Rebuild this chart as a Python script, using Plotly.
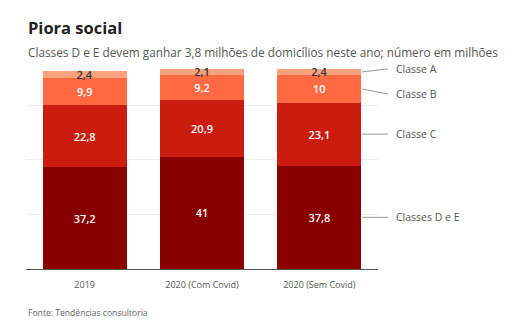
import plotly.graph_objects as go

# Number of households by social class, in millions
categories = ["2019", "2020 (Com Covid)", "2020 (Sem Covid)"]
classes = ["Classes D e E", "Classe C", "Classe B", "Classe A"]
classe_de = [37.2, 41, 37.8]
classe_c = [22.8, 20.9, 23.1]
classe_b = [9.9, 9.2, 10]
classe_a = [2.4, 2.1, 2.4]

series = [classe_de, classe_c, classe_b, classe_a]
colors = ["#8A0000", "#CC1C10", "#FF6A42", "#F9A27E"]
text_colors = ["white", "white", "white", "#333333"]

FONT = "Open Sans"
W, H = 517, 322
M_L, M_R, M_T, M_B = 26, 139, 64, 53
Y_MAX = 75
BARGAP = 0.284


def fmt(v):
    return f"{v:g}".replace(".", ",")


fig = go.Figure()
for name, vals, col, tcol in zip(classes, series, colors, text_colors):
    fig.add_trace(go.Bar(
        x=categories, y=vals, name=name,
        marker=dict(color=col, line=dict(width=0)),
        text=[fmt(v) for v in vals],
        textposition="inside", insidetextanchor="middle",
        textangle=0, constraintext="none",
        textfont=dict(family=FONT, size=11, color=tcol, weight=600),
        hoverinfo="skip",
    ))

plot_h = H - M_T - M_B


def py(px):
    # pixel row -> paper y
    return (H - M_B - px) / plot_h


# Leader lines and labels for the last column
last = len(categories) - 1
edge_x = (last + 0.5 + (1 - BARGAP) / 2) / len(categories)
end_x = (388 - M_L) / (W - M_L - M_R)
label_x = (394 - M_L) / (W - M_L - M_R)
label_offsets = [0, 0, -1.9, 1.1]

annotations = []
shapes = []
base = 0
for name, vals, off in zip(classes, series, label_offsets):
    mid = base + vals[last] / 2
    base += vals[last]
    ly = mid + off
    shapes.append(dict(type="line", xref="paper", yref="paper",
                       x0=edge_x + 0.002, y0=mid / Y_MAX, x1=end_x, y1=ly / Y_MAX,
                       line=dict(color="#999999", width=1)))
    annotations.append(dict(text=name, xref="paper", yref="paper",
                            x=label_x, y=ly / Y_MAX, xanchor="left", yanchor="middle",
                            showarrow=False,
                            font=dict(family=FONT, size=10.5, color="#555555")))

annotations += [
    dict(text="Piora social", xref="paper", yref="paper", x=0, y=py(27),
         xanchor="left", yanchor="middle", showarrow=False,
         font=dict(family=FONT, size=16.5, color="#222222", weight=700)),
    dict(text="Classes D e E devem ganhar 3,8 milhões de domicílios neste ano; número em milhões",
         xref="paper", yref="paper", x=0, y=py(52),
         xanchor="left", yanchor="middle", showarrow=False,
         font=dict(family=FONT, size=11.8, color="#555555")),
    dict(text="Fonte: Tendências consultoria", xref="paper", yref="paper",
         x=0, y=py(313), xanchor="left", yanchor="middle", showarrow=False,
         font=dict(family=FONT, size=8.6, color="#666666")),
]

fig.update_layout(
    width=W, height=H, barmode="stack", bargap=BARGAP,
    margin=dict(l=M_L, r=M_R, t=M_T, b=M_B, autoexpand=False),
    paper_bgcolor="white", plot_bgcolor="white",
    showlegend=False,
    annotations=annotations, shapes=shapes,
    font=dict(family=FONT),
)
fig.update_xaxes(showline=True, linecolor="#555555", linewidth=1,
                 tickfont=dict(family=FONT, size=9, color="#555555"),
                 ticks="", ticklabelstandoff=7, showgrid=False, fixedrange=True)
fig.update_yaxes(range=[0, Y_MAX], tickvals=[20, 40, 60], showticklabels=False,
                 showgrid=True, gridcolor="#EEEEEE", gridwidth=1,
                 zeroline=False, fixedrange=True)

fig.write_html("out.html", config={"displayModeBar": False})
